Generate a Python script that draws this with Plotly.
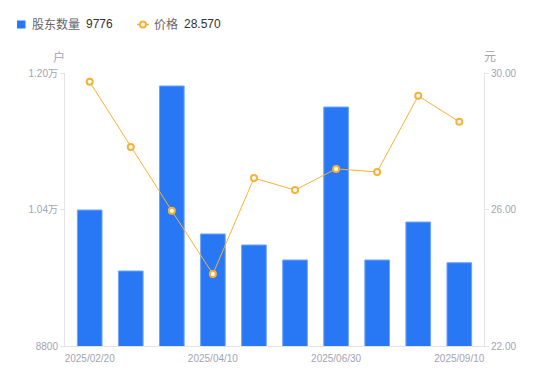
import plotly.graph_objects as go

dates = ["2025/02/20", "2025/03/10", "2025/03/31", "2025/04/10", "2025/04/30",
         "2025/05/20", "2025/06/30", "2025/07/20", "2025/08/10", "2025/09/10"]
holders = [10394, 9679, 11848, 10113, 9984, 9808, 11601, 9808, 10253, 9776]
price = [29.74, 27.83, 25.96, 24.11, 26.92, 26.57, 27.19, 27.10, 29.33, 28.57]

tick_idx = [0, 3, 6, 9]
left_ticks = [8800, 10400, 12000]
left_labels = ["8800", "1.04万", "1.20万"]
right_ticks = [22, 26, 30]
right_labels = ["22.00", "26.00", "30.00"]

FONT = "'Liberation Sans', Arial, 'Noto Sans CJK SC', sans-serif"
GRAY = "#a3a3b3"
AXIS = "#e3e3e8"
BLUE = "#2878f5"
ORANGE = "#f7b235"

W, H = 550, 381
ML, MR, MT, MB = 65, 66, 73, 35
PW, PH = W - ML - MR, H - MT - MB


def px(x):
    return (x - ML) / PW


def py(y):
    return (H - MB - y) / PH


fig = go.Figure()
fig.add_trace(go.Bar(
    x=dates, y=holders, name="股东数量",
    marker=dict(color=BLUE, line=dict(color="#6ea3f8", width=1)),
    yaxis="y", width=0.6,
))
fig.add_trace(go.Scatter(
    x=dates, y=price, name="价格",
    mode="lines+markers", yaxis="y2",
    line=dict(color=ORANGE, width=1),
    marker=dict(symbol="circle", size=6, color="white", line=dict(color=ORANGE, width=2)),
))

shapes = [
    dict(type="rect", xref="paper", yref="paper", x0=px(17), x1=px(25.5),
         y0=py(28.5), y1=py(20.5), fillcolor=BLUE, line=dict(width=0)),
    dict(type="line", xref="paper", yref="paper", x0=px(137), x1=px(149),
         y0=py(24.5), y1=py(24.5), line=dict(color=ORANGE, width=1.5)),
    dict(type="circle", xref="paper", yref="paper", x0=px(140), x1=px(146),
         y0=py(27.5), y1=py(21.5), fillcolor="white", line=dict(color=ORANGE, width=2)),
]

def ann(text, x, y, color, xanchor="left", size=12):
    return dict(text=text, xref="paper", yref="paper", x=px(x), y=py(y),
                xanchor=xanchor, yanchor="middle", showarrow=False,
                font=dict(size=size, color=color))

annotations = [
    ann("股东数量", 30, 24.5, "#666"),
    ann("9776", 84, 24.5, "#333"),
    ann("价格", 152, 24.5, "#666"),
    ann("28.570", 182, 24.5, "#333"),
    ann("户", 59, 57, GRAY, xanchor="center"),
    ann("元", 490, 57, GRAY, xanchor="center"),
]

fig.update_layout(
    width=W, height=H,
    margin=dict(l=ML, r=MR, t=MT, b=MB),
    paper_bgcolor="white", plot_bgcolor="white",
    font=dict(family=FONT, size=11, color=GRAY),
    showlegend=False,
    bargap=0.4,
    shapes=shapes,
    annotations=annotations,
    xaxis=dict(type="category", tickmode="array",
               tickvals=[dates[i] for i in tick_idx],
               ticktext=[dates[i] for i in tick_idx],
               showgrid=False, showline=True, linecolor=AXIS, linewidth=1,
               ticks="", tickfont=dict(size=10, color=GRAY), automargin=False,
               ticklabelstandoff=3),
    yaxis=dict(range=[8800, 12000], tickmode="array", tickvals=left_ticks,
               ticktext=left_labels, showgrid=False, showline=True,
               linecolor=AXIS, linewidth=1, ticks="outside", ticklen=4,
               tickcolor=AXIS, tickfont=dict(size=10, color=GRAY), zeroline=False,
               automargin=False),
    yaxis2=dict(range=[22, 30], overlaying="y", side="right", tickmode="array",
                tickvals=right_ticks, ticktext=right_labels, showgrid=False,
                showline=True, linecolor=AXIS, linewidth=1, ticks="outside",
                ticklen=4, tickcolor=AXIS, tickfont=dict(size=10, color=GRAY),
                zeroline=False, automargin=False),
)

fig.write_html("out.html", config={"displayModeBar": False},
               post_script="document.body.style.margin='0';document.body.style.overflow='hidden';")
